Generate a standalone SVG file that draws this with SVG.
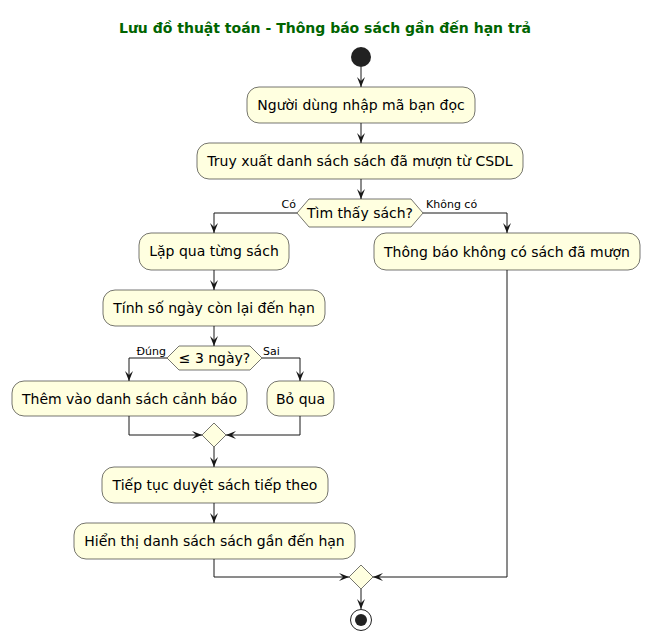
<svg xmlns="http://www.w3.org/2000/svg" width="650" height="641" viewBox="0 0 650 641">
<defs>
<style>
.box{fill:#FFFFE0;stroke:#181818;stroke-width:0.6}
.t{font-family:"DejaVu Sans",sans-serif;font-size:14px;fill:#000;text-anchor:middle}
.lbl{font-family:"DejaVu Sans",sans-serif;font-size:11px;fill:#000}
.ln{fill:none;stroke:#181818;stroke-width:1}
.title{font-family:"DejaVu Sans",sans-serif;font-size:14px;font-weight:bold;fill:#006400;text-anchor:middle}
</style>
<marker id="ah" markerUnits="userSpaceOnUse" viewBox="0 0 10 8" markerWidth="10" markerHeight="8" refX="10" refY="4" orient="auto">
<path d="M0,0 L10,4 L0,8 L4,4 Z" fill="#181818"/>
</marker>
</defs>
<rect width="650" height="641" fill="#FFFFFF"/>
<text class="title" x="325" y="33">Lưu đồ thuật toán - Thông báo sách gần đến hạn trả</text>

<g id="connectors">
<path class="ln" d="M361,67 L361,87" marker-end="url(#ah)"/>
<path class="ln" d="M361,123 L361,143" marker-end="url(#ah)"/>
<path class="ln" d="M361,179 L361,199" marker-end="url(#ah)"/>
<path class="ln" d="M297,213 L214,213 L214,233" marker-end="url(#ah)"/>
<path class="ln" d="M423,213 L507,213 L507,233" marker-end="url(#ah)"/>
<path class="ln" d="M214,270 L214,290" marker-end="url(#ah)"/>
<path class="ln" d="M214,326 L214,346" marker-end="url(#ah)"/>
<path class="ln" d="M167,358 L129,358 L129,381" marker-end="url(#ah)"/>
<path class="ln" d="M262,358 L300,358 L300,381" marker-end="url(#ah)"/>
<path class="ln" d="M129,416 L129,435 L202,435" marker-end="url(#ah)"/>
<path class="ln" d="M300,416 L300,435 L226,435" marker-end="url(#ah)"/>
<path class="ln" d="M214,447 L214,467" marker-end="url(#ah)"/>
<path class="ln" d="M214,503 L214,523" marker-end="url(#ah)"/>
<path class="ln" d="M214,559 L214,577 L349,577" marker-end="url(#ah)"/>
<path class="ln" d="M507,270 L507,577 L373,577" marker-end="url(#ah)"/>
<path class="ln" d="M361,589 L361,609" marker-end="url(#ah)"/>
<text class="lbl" x="296" y="208" text-anchor="end">Có</text>
<text class="lbl" x="426" y="208">Không có</text>
<text class="lbl" x="166" y="355" text-anchor="end">Đúng</text>
<text class="lbl" x="263" y="355">Sai</text>
</g>

<g id="start"><circle cx="361" cy="57" r="10" fill="#222222"/></g>

<g id="n1"><rect class="box" x="247" y="87" width="228" height="36" rx="12"/><text class="t" x="361" y="110">Người dùng nhập mã bạn đọc</text></g>
<g id="n2"><rect class="box" x="197" y="143" width="326" height="36" rx="12"/><text class="t" x="360" y="166">Truy xuất danh sách sách đã mượn từ CSDL</text></g>
<g id="d1"><polygon class="box" points="297,213 309,199 411,199 423,213 411,227 309,227"/><text class="t" x="360" y="218">Tìm thấy sách?</text></g>
<g id="n3"><rect class="box" x="139" y="233" width="150" height="37" rx="12"/><text class="t" x="214" y="256">Lặp qua từng sách</text></g>
<g id="n4"><rect class="box" x="103" y="290" width="222" height="36" rx="12"/><text class="t" x="214" y="313">Tính số ngày còn lại đến hạn</text></g>
<g id="n5"><rect class="box" x="374" y="233" width="266" height="37" rx="12"/><text class="t" x="507" y="257">Thông báo không có sách đã mượn</text></g>
<g id="d2"><polygon class="box" points="167,358 179,346 250,346 262,358 250,370 179,370"/><text class="t" x="214.5" y="363">≤ 3 ngày?</text></g>
<g id="n6"><rect class="box" x="12" y="381" width="235" height="35" rx="12"/><text class="t" x="129.5" y="404">Thêm vào danh sách cảnh báo</text></g>
<g id="n7"><rect class="box" x="267" y="381" width="67" height="35" rx="12"/><text class="t" x="300.5" y="404">Bỏ qua</text></g>
<g id="m1"><polygon class="box" points="214,423 226,435 214,447 202,435"/></g>
<g id="n8"><rect class="box" x="102" y="467" width="226" height="36" rx="12"/><text class="t" x="215" y="490">Tiếp tục duyệt sách tiếp theo</text></g>
<g id="n9"><rect class="box" x="74" y="523" width="281" height="36" rx="12"/><text class="t" x="214.5" y="546">Hiển thị danh sách sách gần đến hạn</text></g>
<g id="m2"><polygon class="box" points="361,565 373,577 361,589 349,577"/></g>
<g id="end"><circle cx="361" cy="620" r="10.5" fill="#FFFFFF" stroke="#222222" stroke-width="1"/><circle cx="361" cy="620" r="6" fill="#222222"/></g>
</svg>
